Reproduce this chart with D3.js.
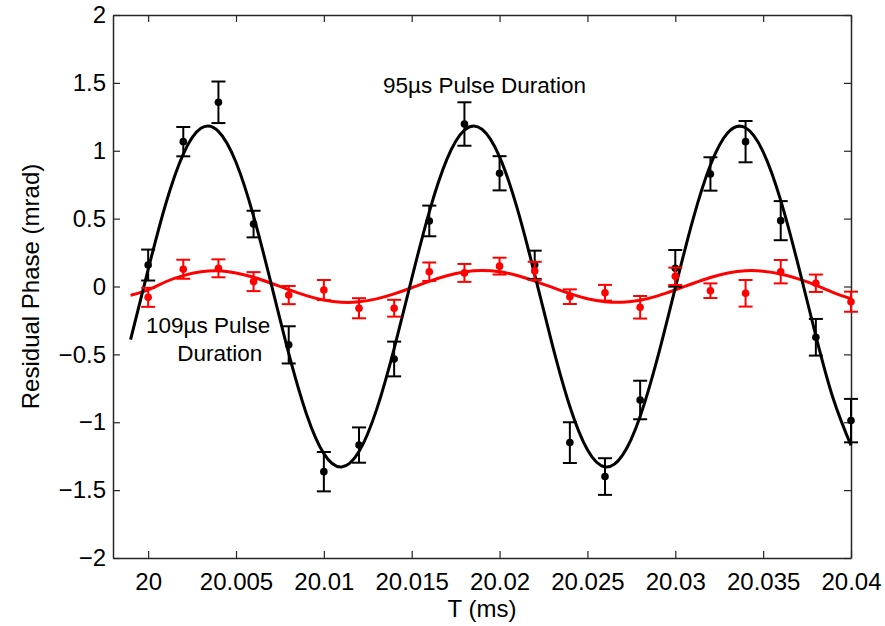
<!DOCTYPE html>
<html>
<head>
<meta charset="utf-8">
<script src="https://cdn.jsdelivr.net/npm/d3@7"></script>
<style>
  body { margin: 0; background: #fff; }
  text { font-family: "Liberation Sans", Arial, Helvetica, sans-serif; fill: #000; }
</style>
</head>
<body>
<svg id="chart" width="885" height="626"></svg>
<script>
// measured points (T in ms), one every 2 us
var pointT = [20.000, 20.002, 20.004, 20.006, 20.008, 20.010, 20.012, 20.014, 20.016, 20.018, 20.020,
              20.022, 20.024, 20.026, 20.028, 20.030, 20.032, 20.034, 20.036, 20.038, 20.040]

// 95us pulse (black)
var black95 = [0.158, 1.067, 1.357, 0.46, -0.43, -1.364, -1.168, -0.534, 0.483, 1.197, 0.834,
               0.16, -1.15, -1.40, -0.836, 0.134, 0.829, 1.067, 0.485, -0.374, -0.988]
var black95Err = [0.114, 0.108, 0.153, 0.098, 0.137, 0.145, 0.13, 0.128, 0.113, 0.16, 0.126,
                  0.104, 0.15, 0.135, 0.142, 0.135, 0.123, 0.152, 0.144, 0.135, 0.16]

// 109us pulse (red)
var red109 = [-0.08, 0.127, 0.134, 0.036, -0.063, -0.026, -0.16, -0.16, 0.109, 0.10, 0.15,
              0.115, -0.075, -0.046, -0.153, 0.075, -0.031, -0.05, 0.109, 0.024, -0.112]
var red109Err = [0.07, 0.07, 0.066, 0.07, 0.067, 0.074, 0.074, 0.062, 0.068, 0.066, 0.062,
                 0.067, 0.054, 0.058, 0.083, 0.064, 0.054, 0.098, 0.086, 0.064, 0.074]

// fitted curves, every 1 us
var fitT = [19.999, 20.000, 20.001, 20.002, 20.003, 20.004, 20.005, 20.006, 20.007, 20.008, 20.009,
             20.010, 20.011, 20.012, 20.013, 20.014, 20.015, 20.016, 20.017, 20.018, 20.019, 20.020,
             20.021, 20.022, 20.023, 20.024, 20.025, 20.026, 20.027, 20.028, 20.029, 20.030, 20.031,
             20.032, 20.033, 20.034, 20.035, 20.036, 20.037, 20.038, 20.039, 20.040]
var blackFit = [-0.392, 0.125, 0.608, 0.976, 1.165, 1.143, 0.915, 0.518, 0.021, -0.493, -0.935,
                -1.231, -1.330, -1.216, -0.907, -0.457, 0.058, 0.550, 0.937, 1.152, 1.158, 0.955,
                0.577, 0.088, -0.428, -0.884, -1.203, -1.329, -1.242, -0.957, -0.521, -0.010, 0.491,
                0.895, 1.135, 1.169, 0.992, 0.634, 0.155, -0.363, -0.831, -1.171]
var redFit = [-0.065, -0.025, 0.035, 0.08, 0.108, 0.116, 0.100, 0.068, 0.024, -0.023, -0.067,
              -0.100, -0.116, -0.113, -0.091, -0.054, -0.009, 0.038, 0.079, 0.107, 0.117, 0.108,
              0.081, 0.040, -0.007, -0.053, -0.090, -0.112, -0.116, -0.101, -0.069, -0.025, 0.022,
              0.066, 0.099, 0.116, 0.113, 0.092, 0.056, 0.010, -0.045, -0.09]

var xTicks = [20, 20.005, 20.01, 20.015, 20.02, 20.025, 20.03, 20.035, 20.04]
var yTicks = [-2, -1.5, -1, -0.5, 0, 0.5, 1, 1.5, 2]

var margin = {top: 15, right: 34, bottom: 68, left: 113}
var width = 885 - margin.left - margin.right,
    height = 626 - margin.top - margin.bottom

var svg = d3.select("#chart")
var g = svg.append("g")
  .attr("transform", "translate(" + margin.left + "," + margin.top + ")")

var x = d3.scaleLinear().domain([19.998, 20.04]).range([0, width])
var y = d3.scaleLinear().domain([-2, 2]).range([height, 0])

// ---------------------------//
//       AXES (matlab box)    //
// ---------------------------//
var fmtX = function(d){ return String(+d.toFixed(3)) }
var fmtY = function(d){ return d < 0 ? "\u2212" + String(-d) : String(d) }

var tickLen = 7
g.append("g")
  .attr("transform", "translate(0," + height + ")")
  .call(d3.axisBottom(x).tickValues(xTicks).tickFormat(fmtX).tickSizeInner(-tickLen).tickSizeOuter(0).tickPadding(15))
g.append("g")
  .call(d3.axisTop(x).tickValues(xTicks).tickFormat("").tickSizeInner(-tickLen).tickSizeOuter(0))
g.append("g")
  .call(d3.axisLeft(y).tickValues(yTicks).tickFormat(fmtY).tickSizeInner(-tickLen).tickSizeOuter(0).tickPadding(7))
g.append("g")
  .attr("transform", "translate(" + width + ",0)")
  .call(d3.axisRight(y).tickValues(yTicks).tickFormat("").tickSizeInner(-tickLen).tickSizeOuter(0))

g.selectAll(".tick text").style("font-size", "24px").style("fill", "#000")
g.selectAll(".tick line").attr("stroke", "#262626").attr("stroke-width", 1.2)
g.selectAll(".domain").attr("stroke", "#262626").attr("stroke-width", 1.5)

// axis labels
svg.append("text")
  .attr("x", margin.left + width / 2)
  .attr("y", 617)
  .attr("text-anchor", "middle")
  .style("font-size", "24px")
  .text("T (ms)")

svg.append("text")
  .attr("transform", "translate(39," + (margin.top + height / 2) + ") rotate(-90)")
  .attr("text-anchor", "middle")
  .style("font-size", "24px")
  .text("Residual Phase (mrad)")

// ---------------------------//
//       FIT CURVES           //
// ---------------------------//
var line = function(vals){
  return d3.line()
    .x(function(d, i){ return x(fitT[i]) })
    .y(function(d){ return y(d) })
    .curve(d3.curveNatural)(vals)
}

g.append("path").attr("d", line(redFit))
  .attr("fill", "none").attr("stroke", "#ff0000").attr("stroke-width", 3)
g.append("path").attr("d", line(blackFit))
  .attr("fill", "none").attr("stroke", "#000").attr("stroke-width", 3)

// ---------------------------//
//       ERROR BARS + DOTS    //
// ---------------------------//
function errorBars(vals, errs, color){
  var cap = 7
  var grp = g.append("g")
  var rows = vals.map(function(v, i){ return {t: pointT[i], v: v, e: errs[i]} })
  grp.selectAll("line.bar").data(rows).enter().append("line")
    .attr("x1", function(d){ return x(d.t) }).attr("x2", function(d){ return x(d.t) })
    .attr("y1", function(d){ return y(d.v - d.e) }).attr("y2", function(d){ return y(d.v + d.e) })
    .attr("stroke", color).attr("stroke-width", 2)
  grp.selectAll("line.top").data(rows).enter().append("line")
    .attr("x1", function(d){ return x(d.t) - cap }).attr("x2", function(d){ return x(d.t) + cap })
    .attr("y1", function(d){ return y(d.v + d.e) }).attr("y2", function(d){ return y(d.v + d.e) })
    .attr("stroke", color).attr("stroke-width", 2)
  grp.selectAll("line.bot").data(rows).enter().append("line")
    .attr("x1", function(d){ return x(d.t) - cap }).attr("x2", function(d){ return x(d.t) + cap })
    .attr("y1", function(d){ return y(d.v - d.e) }).attr("y2", function(d){ return y(d.v - d.e) })
    .attr("stroke", color).attr("stroke-width", 2)
  grp.selectAll("circle").data(rows).enter().append("circle")
    .attr("cx", function(d){ return x(d.t) })
    .attr("cy", function(d){ return y(d.v) })
    .attr("r", 3.8)
    .attr("fill", color)
}

errorBars(black95, black95Err, "#000")
errorBars(red109, red109Err, "#ff0000")

// ---------------------------//
//       ANNOTATIONS          //
// ---------------------------//
g.append("text").attr("x", x(20.01337)).attr("y", y(1.423))
  .style("font-size", "22.5px").text("95\u00b5s Pulse Duration")
g.append("text").attr("x", x(19.99988)).attr("y", y(-0.345))
  .style("font-size", "22.5px").text("109\u00b5s Pulse")
g.append("text").attr("x", x(20.00166)).attr("y", y(-0.549))
  .style("font-size", "22.5px").text("Duration")
</script>
</body>
</html>
